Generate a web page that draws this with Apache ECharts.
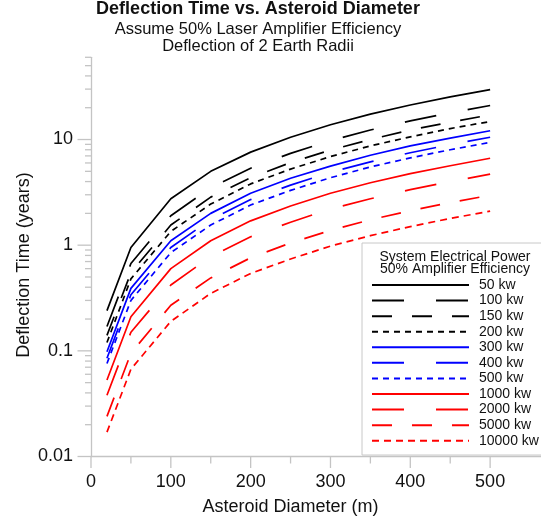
<!DOCTYPE html>
<html><head><meta charset="utf-8">
<script src="https://cdn.jsdelivr.net/npm/echarts@6/dist/echarts.min.js"></script>
<style>html,body{margin:0;padding:0;background:#fff}#c{width:541px;height:525px}</style>
</head><body><div id="c"></div>
<script>
// ---- data ----
const diameters = [20, 50, 100, 150, 200, 250, 300, 350, 400, 450, 500];
const kw50    = [0.24, 0.95, 2.75, 5.0, 7.6, 10.5, 13.8, 17.4, 21.2, 25.3, 29.7];
const kw100   = [0.17, 0.67, 1.9, 3.5, 5.35, 7.4, 9.75, 12.3, 15.0, 17.9, 21.0];
const kw150   = [0.14, 0.55, 1.55, 2.85, 4.35, 6.05, 7.95, 10.0, 12.3, 14.6, 17.1];
const kw200   = [0.12, 0.48, 1.35, 2.45, 3.8, 5.25, 6.9, 8.7, 10.6, 12.7, 14.8];
const kw300   = [0.098, 0.39, 1.1, 2.0, 3.1, 4.3, 5.6, 7.1, 8.7, 10.3, 12.1];
const kw400   = [0.085, 0.34, 0.95, 1.75, 2.7, 3.7, 4.9, 6.15, 7.5, 8.95, 10.5];
const kw500   = [0.076, 0.3, 0.85, 1.55, 2.4, 3.3, 4.35, 5.5, 6.7, 8.0, 9.4];
const kw1000  = [0.053, 0.21, 0.6, 1.1, 1.7, 2.35, 3.1, 3.9, 4.75, 5.65, 6.65];
const kw2000  = [0.038, 0.15, 0.42, 0.78, 1.2, 1.65, 2.2, 2.75, 3.35, 4.0, 4.7];
const kw5000  = [0.024, 0.095, 0.27, 0.49, 0.76, 1.05, 1.38, 1.74, 2.12, 2.53, 2.97];
const kw10000 = [0.017, 0.067, 0.19, 0.35, 0.54, 0.74, 0.98, 1.23, 1.5, 1.79, 2.1];
const seriesNames = ['50 kw','100 kw','150 kw','200 kw','300 kw','400 kw','500 kw','1000 kw','2000 kw','5000 kw','10000 kw'];
const seriesValues = [kw50, kw100, kw150, kw200, kw300, kw400, kw500, kw1000, kw2000, kw5000, kw10000];
const xTickLabels = ['0','100','200','300','400','500'];
const yTickLabels = ['0.01','0.1','1','10'];
const titleText = 'Deflection Time vs. Asteroid Diameter';
const subtitle1 = 'Assume 50% Laser Amplifier Efficiency';
const subtitle2 = 'Deflection of 2 Earth Radii';
const xTitle = 'Asteroid Diameter (m)';
const yTitle = 'Deflection Time (years)';
const legendTitle1 = 'System Electrical Power';
const legendTitle2 = '50% Amplifier Efficiency';

// ---- styles ----
const FONT = "'Liberation Sans', Arial, sans-serif";
const AX = '#c4c4c4';
const LONG = [32, 32], MED = [20, 20], SHORT = [6, 5];
const styles = [
  ['#000000', 'solid'], ['#000000', LONG], ['#000000', MED], ['#000000', SHORT],
  ['#0000ff', 'solid'], ['#0000ff', LONG], ['#0000ff', SHORT],
  ['#ff0000', 'solid'], ['#ff0000', LONG], ['#ff0000', MED], ['#ff0000', [7, 5]]
];

const chart = echarts.init(document.getElementById('c'), null, {renderer: 'canvas'});
const series = seriesNames.map((name, i) => ({
  name, type: 'line', symbol: 'none', showSymbol: false, animation: false,
  color: styles[i][0],
  data: diameters.map((d, j) => [d, seriesValues[i][j]]),
  lineStyle: {color: styles[i][0], width: 1.7, type: styles[i][1]},
  itemStyle: {color: styles[i][0]},
  emphasis: {disabled: true}, z: 3
}));

chart.setOption({
  animation: false,
  grid: {left: 91, right: -5, top: 57.3, bottom: 68.5, containLabel: false, outerBoundsMode: 'none'},
  xAxis: {
    type: 'value', min: 0, max: 570, interval: 100,
    axisLine: {lineStyle: {color: AX, width: 1.3}},
    axisTick: {show: false}, minorTick: {show: false},
    splitLine: {show: false},
    axisLabel: {interval: 0, showMaxLabel: false, margin: 17, fontSize: 18, color: '#111', fontFamily: FONT,
      formatter: v => (v % 100 === 0 && xTickLabels[v / 100] !== undefined) ? xTickLabels[v / 100] : ''}
  },
  yAxis: {
    type: 'log', logBase: 10, min: 0.01, max: 60,
    axisLine: {show: true, lineStyle: {color: AX, width: 1.3}},
    axisTick: {show: false}, minorTick: {show: false},
    splitLine: {show: false},
    axisLabel: {margin: 18, fontSize: 18, color: '#111', fontFamily: FONT, showMaxLabel: false,
      formatter: v => { const l = Math.log10(v); const e = Math.round(l);
        return Math.abs(l - e) < 1e-6 && yTickLabels[e + 2] !== undefined ? yTickLabels[e + 2] : ''; }}
  },
  legend: {
    orient: 'vertical', left: 371, top: 278, padding: 0,
    itemWidth: 97, itemHeight: 14, itemGap: 1.57, selectedMode: false,
    data: seriesNames, z: 10,
    itemStyle: {color: 'transparent', borderWidth: 0, opacity: 0},
    textStyle: {fontSize: 14, fontFamily: FONT, color: '#111', lineHeight: 14, padding: [0, 0, 0, 5]}
  },
  series
});

// axis ticks and texts
const g = [];
const ax0 = chart.convertToPixel({xAxisIndex: 0}, 0);
const ay0 = chart.convertToPixel({yAxisIndex: 0}, 0.01);
const tickStyle = {stroke: AX, lineWidth: 1.3};
for (let e = -2; e <= 1; e++) {
  for (let k = 1; k <= 9; k++) {
    const v = k * Math.pow(10, e);
    if (v > 60.0001) continue;
    const y = chart.convertToPixel({yAxisIndex: 0}, v);
    const len = k === 1 ? 13.5 : 6;
    g.push({type: 'line', silent: true, z: 1, shape: {x1: ax0 - len, y1: y, x2: ax0, y2: y}, style: tickStyle});
  }
}
for (let v = 0; v <= 500; v += 50) {
  const x = chart.convertToPixel({xAxisIndex: 0}, v);
  const len = v % 100 === 0 ? 11.5 : 7;
  g.push({type: 'line', silent: true, z: 1, shape: {x1: x, y1: ay0, x2: x, y2: ay0 + len}, style: tickStyle});
}
// legend box
g.push({type: 'rect', silent: true, z: 5, shape: {x: 362, y: 243, width: 200, height: 212},
  style: {fill: '#fff', stroke: '#c8c8c8', lineWidth: 1}});
const txt = (text, x, y, font, extra) => Object.assign({type: 'text', silent: true, z: 20, x, y,
  style: {text, x: 0, y: 0, font, fill: '#111', align: 'center', verticalAlign: 'middle'}}, extra || {});
g.push(txt(legendTitle1, 455, 257.5, '14px ' + FONT));
g.push(txt(legendTitle2, 455, 269.5, '14px ' + FONT));
g.push(txt(titleText, 258, 9.5, 'bold 18px ' + FONT));
g.push(txt(subtitle1, 258, 29.5, '16.5px ' + FONT));
g.push(txt(subtitle2, 258, 46.5, '16.5px ' + FONT));
const xMid = chart.convertToPixel({xAxisIndex: 0}, 250);
g.push(txt(xTitle, xMid, 507.5, '18px ' + FONT));
g.push(txt(yTitle, 24, 265, '18px ' + FONT, {rotation: Math.PI / 2}));
chart.setOption({graphic: {elements: g}});
</script></body></html>
